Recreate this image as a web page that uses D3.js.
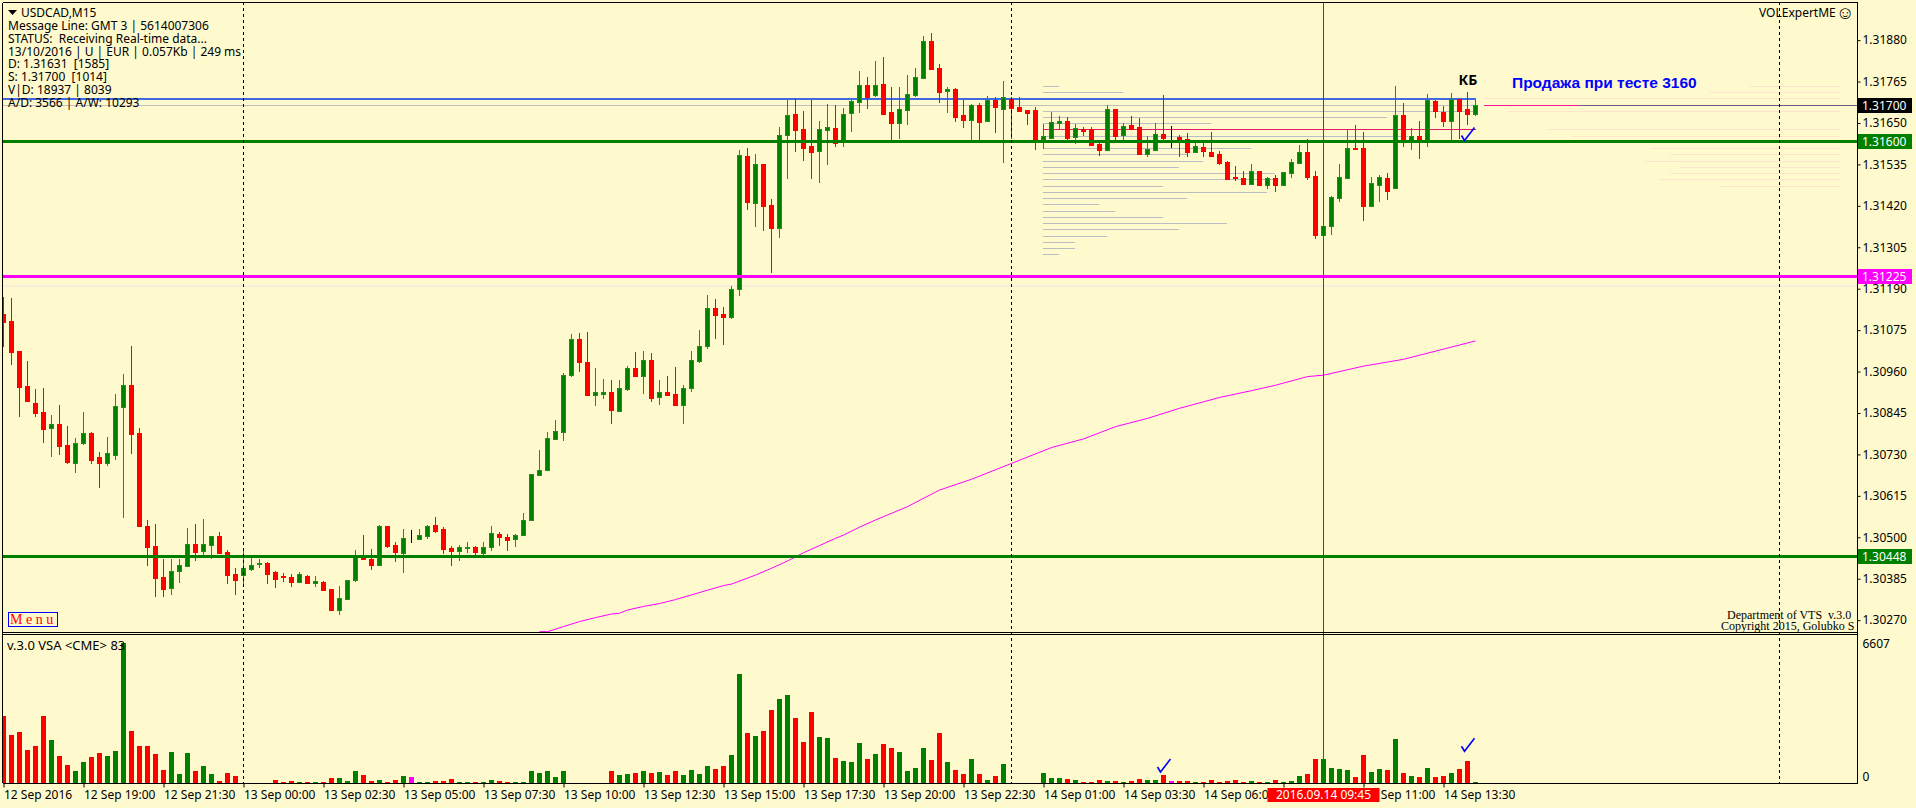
<!DOCTYPE html>
<html><head><meta charset="utf-8">
<script src="https://cdn.jsdelivr.net/npm/d3@7/dist/d3.min.js"></script>
<style>
html,body{margin:0;padding:0;background:#fffacd;overflow:hidden}
svg{display:block}
text{font-family:"Noto Sans",sans-serif;font-size:12px;fill:#000;white-space:pre}
</style></head><body><svg id="c" width="1916" height="808"></svg>
<script>
const opens=[1.31120,1.31100,1.31017,1.30920,1.30873,1.30848,1.30802,1.30814,1.30756,1.30707,
1.30760,1.30789,1.30723,1.30707,1.30729,1.30863,1.30923,1.30789,1.30531,1.30476,
1.30390,1.30360,1.30405,1.30420,1.30482,1.30463,1.30480,1.30504,1.30459,1.30398,
1.30396,1.30413,1.30426,1.30429,1.30404,1.30392,1.30390,1.30377,1.30393,1.30374,
1.30376,1.30357,1.30299,1.30330,1.30380,1.30448,1.30440,1.30424,1.30531,1.30479,
1.30457,1.30497,1.30496,1.30504,1.30534,1.30523,1.30470,1.30462,1.30471,1.30473,
1.30457,1.30473,1.30509,1.30501,1.30495,1.30506,1.30548,1.30675,1.30686,1.30774,
1.30793,1.30949,1.31050,1.30987,1.30895,1.30898,1.30903,1.30851,1.30912,1.30970,
1.30947,1.30992,1.30889,1.30903,1.30897,1.30867,1.30914,1.30989,1.31031,1.31136,
1.31119,1.31111,1.31189,1.31558,1.31428,1.31536,1.31422,1.31359,1.31617,1.31675,
1.31633,1.31586,1.31572,1.31631,1.31636,1.31600,1.31678,1.31708,1.31756,1.31728,
1.31758,1.31681,1.31650,1.31686,1.31728,1.31775,1.31878,1.31803,1.31739,1.31745,
1.31672,1.31658,1.31700,1.31656,1.31714,1.31689,1.31717,1.31695,1.31686,1.31686,
1.31606,1.31608,1.31650,1.31656,1.31612,1.31633,1.31633,1.31592,1.31575,1.31689,
1.31617,1.31645,1.31639,1.31564,1.31575,1.31620,1.31610,1.31611,1.31606,1.31570,
1.31583,1.31570,1.31564,1.31541,1.31500,1.31497,1.31481,1.31516,1.31478,1.31497,
1.31478,1.31511,1.31539,1.31569,1.31503,1.31339,1.31364,1.31441,1.31497,1.31580,
1.31580,1.31419,1.31478,1.31497,1.31469,1.31672,1.31600,1.31613,1.31600,1.31711,
1.31680,1.31655,1.31716,1.31688,1.31675];
const highs=[1.31168,1.31163,1.31017,1.30989,1.30912,1.30914,1.30839,1.30867,1.30809,1.30776,
1.30848,1.30792,1.30737,1.30778,1.30898,1.30953,1.31031,1.30803,1.30548,1.30537,
1.30440,1.30440,1.30440,1.30526,1.30537,1.30551,1.30504,1.30515,1.30465,1.30415,
1.30470,1.30446,1.30441,1.30432,1.30407,1.30401,1.30398,1.30404,1.30395,1.30392,
1.30379,1.30357,1.30365,1.30382,1.30465,1.30506,1.30468,1.30534,1.30531,1.30487,
1.30523,1.30520,1.30523,1.30534,1.30556,1.30529,1.30476,1.30479,1.30487,1.30476,
1.30487,1.30531,1.30515,1.30509,1.30509,1.30566,1.30677,1.30742,1.30792,1.30826,
1.30956,1.31064,1.31067,1.31070,1.30970,1.30939,1.30937,1.30937,1.30975,1.31014,
1.31017,1.31011,1.30936,1.30947,1.30972,1.30922,1.31017,1.31075,1.31172,1.31161,
1.31139,1.31197,1.31575,1.31581,1.31564,1.31536,1.31439,1.31639,1.31714,1.31719,
1.31683,1.31714,1.31656,1.31703,1.31700,1.31692,1.31714,1.31794,1.31778,1.31822,
1.31833,1.31750,1.31750,1.31783,1.31803,1.31891,1.31900,1.31814,1.31750,1.31747,
1.31714,1.31703,1.31706,1.31725,1.31722,1.31767,1.31722,1.31722,1.31686,1.31695,
1.31647,1.31681,1.31670,1.31667,1.31647,1.31639,1.31639,1.31597,1.31700,1.31689,
1.31650,1.31670,1.31664,1.31614,1.31650,1.31728,1.31642,1.31617,1.31622,1.31600,
1.31600,1.31625,1.31572,1.31544,1.31530,1.31516,1.31536,1.31516,1.31500,1.31505,
1.31514,1.31550,1.31589,1.31605,1.31516,1.31364,1.31447,1.31536,1.31633,1.31644,
1.31625,1.31500,1.31505,1.31511,1.31752,1.31705,1.31636,1.31655,1.31730,1.31713,
1.31697,1.31733,1.31716,1.31736,1.31713];
const lows=[1.31029,1.30978,1.30835,1.30878,1.30835,1.30763,1.30724,1.30729,1.30702,1.30679,
1.30757,1.30704,1.30638,1.30699,1.30715,1.30554,1.30732,1.30530,1.30421,1.30335,
1.30335,1.30341,1.30373,1.30419,1.30435,1.30449,1.30441,1.30457,1.30371,1.30341,
1.30371,1.30405,1.30414,1.30371,1.30358,1.30377,1.30363,1.30374,1.30371,1.30363,
1.30352,1.30298,1.30285,1.30330,1.30377,1.30440,1.30409,1.30421,1.30471,1.30432,
1.30401,1.30484,1.30496,1.30495,1.30512,1.30454,1.30420,1.30434,1.30457,1.30448,
1.30451,1.30462,1.30476,1.30462,1.30473,1.30504,1.30548,1.30673,1.30685,1.30772,
1.30768,1.30946,1.30959,1.30895,1.30864,1.30884,1.30814,1.30848,1.30906,1.30948,
1.30897,1.30875,1.30867,1.30892,1.30867,1.30814,1.30903,1.30983,1.31022,1.31050,
1.31033,1.31106,1.31169,1.31409,1.31361,1.31350,1.31233,1.31331,1.31495,1.31570,
1.31545,1.31495,1.31484,1.31533,1.31583,1.31583,1.31625,1.31678,1.31689,1.31722,
1.31672,1.31602,1.31606,1.31645,1.31722,1.31772,1.31797,1.31706,1.31678,1.31653,
1.31636,1.31601,1.31601,1.31656,1.31622,1.31539,1.31606,1.31683,1.31645,1.31575,
1.31578,1.31606,1.31633,1.31603,1.31592,1.31614,1.31589,1.31559,1.31575,1.31603,
1.31603,1.31631,1.31561,1.31556,1.31572,1.31603,1.31581,1.31556,1.31556,1.31567,
1.31556,1.31559,1.31534,1.31491,1.31489,1.31478,1.31480,1.31475,1.31466,1.31458,
1.31475,1.31497,1.31539,1.31491,1.31328,1.31339,1.31339,1.31430,1.31494,1.31575,
1.31378,1.31419,1.31430,1.31436,1.31469,1.31583,1.31575,1.31550,1.31583,1.31663,
1.31638,1.31594,1.31605,1.31644,1.31669];
const closes=[1.31099,1.31015,1.30918,1.30879,1.30846,1.30802,1.30814,1.30754,1.30710,1.30762,
1.30789,1.30715,1.30707,1.30734,1.30864,1.30923,1.30788,1.30530,1.30474,1.30388,
1.30358,1.30407,1.30423,1.30482,1.30460,1.30482,1.30504,1.30457,1.30396,1.30380,
1.30415,1.30423,1.30428,1.30399,1.30385,1.30388,1.30377,1.30398,1.30374,1.30379,
1.30355,1.30298,1.30332,1.30382,1.30448,1.30441,1.30424,1.30531,1.30476,1.30460,
1.30498,1.30497,1.30506,1.30531,1.30518,1.30468,1.30462,1.30473,1.30473,1.30459,
1.30473,1.30512,1.30501,1.30493,1.30506,1.30548,1.30677,1.30688,1.30775,1.30795,
1.30951,1.31050,1.30985,1.30895,1.30903,1.30903,1.30853,1.30914,1.30970,1.30948,
1.30992,1.30886,1.30903,1.30895,1.30867,1.30914,1.30992,1.31031,1.31136,1.31117,
1.31111,1.31189,1.31561,1.31431,1.31536,1.31420,1.31358,1.31617,1.31672,1.31631,
1.31581,1.31570,1.31633,1.31639,1.31595,1.31675,1.31711,1.31756,1.31722,1.31756,
1.31675,1.31650,1.31689,1.31731,1.31778,1.31878,1.31800,1.31736,1.31745,1.31667,
1.31658,1.31700,1.31653,1.31714,1.31695,1.31722,1.31692,1.31683,1.31678,1.31601,
1.31614,1.31653,1.31656,1.31608,1.31636,1.31628,1.31589,1.31575,1.31689,1.31614,
1.31642,1.31633,1.31564,1.31578,1.31620,1.31608,1.31610,1.31603,1.31570,1.31586,
1.31572,1.31559,1.31539,1.31494,1.31497,1.31481,1.31516,1.31476,1.31497,1.31478,
1.31514,1.31541,1.31569,1.31500,1.31339,1.31364,1.31444,1.31500,1.31580,1.31577,
1.31419,1.31483,1.31500,1.31461,1.31672,1.31602,1.31613,1.31600,1.31713,1.31683,
1.31655,1.31716,1.31683,1.31675,1.31699];
const volumes=[3170,2271,2413,1561,1750,3170,2034,1277,852,568,
994,1230,1419,1277,1514,6607,2460,1750,1750,1372,
615,1467,426,1419,568,804,426,95,473,331,
0,0,0,0,142,47,95,47,32,32,
32,237,237,95,568,378,95,142,47,142,
331,284,47,32,95,95,189,47,47,32,
47,142,95,47,32,32,568,473,568,284,
568,0,0,0,0,0,568,378,426,473,
568,473,520,378,568,378,615,426,804,662,
804,1325,5157,2366,2224,2460,3454,3974,4163,3075,
1940,3359,2176,2129,1183,1041,994,1892,1135,1372,
1845,1656,1467,568,710,1656,1088,2366,994,615,
426,1135,426,142,331,899,0,0,0,0,
473,237,237,189,142,47,47,142,95,95,
47,95,189,142,142,378,95,95,95,47,
32,142,47,95,142,47,95,32,47,142,
47,95,331,426,1135,1135,710,662,615,284,
1325,520,662,615,2082,473,331,284,710,284,
331,473,662,1041,47];
const maBars=[67,68,70,72,74,76,77,78,80,82,84,86,88,90,91,94,96,98,100,102,104,105,107,109,113,117,121,126,131,135,139,143,147,150,152,156,159,163,165,170,175,184];
const maValues=[1.30238,1.30238,1.30252,1.30266,1.30277,1.30287,1.30289,1.30298,1.30308,1.30316,1.30327,1.30340,1.30353,1.30366,1.30370,1.30395,1.30414,1.30434,1.30457,1.30477,1.30497,1.30506,1.30528,1.30548,1.30585,1.30631,1.30661,1.30705,1.30749,1.30773,1.30807,1.30830,1.30858,1.30876,1.30888,1.30907,1.30922,1.30946,1.30950,1.30975,1.30994,1.31045];
const profilePrices=[1.31752,1.31735,1.31682,1.31666,1.31649,1.31613,1.31596,1.31580,1.31563,1.31544,1.31527,1.31510,1.31494,1.31474,1.31458,1.31441,1.31424,1.31405,1.31388,1.31372,1.31355,1.31335,1.31319,1.31302,1.31285];
const profileVolumes=[16,80,433,344,168,365,359,208,145,160,136,232,232,120,224,144,56,72,120,184,136,64,32,32,16];
const farProfilePrices=[1.31752,1.31735,1.31719,1.31682,1.31633,1.31613,1.31580,1.31563,1.31544,1.31527,1.31510,1.31494,1.31474];
const farProfileVolumes=[90,130,356,332,292,268,190,170,195,160,170,180,120];
const priceTicks=[1.31880,1.31765,1.31650,1.31535,1.31420,1.31305,1.31190,1.31075,1.30960,1.30845,1.30730,1.30615,1.30500,1.30385,1.30270];
const timeTickBars=[0,10,20,30,40,50,60,70,80,90,100,110,120,130,140,150,160,170,180];
const timeLabels=["12 Sep 2016","12 Sep 19:00","12 Sep 21:30","13 Sep 00:00","13 Sep 02:30","13 Sep 05:00","13 Sep 07:30","13 Sep 10:00","13 Sep 12:30","13 Sep 15:00","13 Sep 17:30","13 Sep 20:00","13 Sep 22:30","14 Sep 01:00","14 Sep 03:30","14 Sep 06:00","14 Sep 08:30","14 Sep 11:00","14 Sep 13:30"];
const dayBars=[30,126,222];
const cursorBar=165;
const infoLines=["USDCAD,M15","Message Line: GMT 3 | 5614007306","STATUS:  Receiving Real-time data...","13/10/2016 | U | EUR | 0.057Kb | 249 ms","D: 1.31631  [1585]","S: 1.31700  [1014]","V|D: 18937 | 8039","A/D: 3566 | A/W: 10293"];
const levels=[{p:1.31600,c:"#008000"},{p:1.31225,c:"#ff00ff"},{p:1.30448,c:"#008000"}];
const n=opens.length;
const BG="#fffacd",GREEN="#008000",WICKG="#228b22",RED="#ff0000",MAG="#ff00ff";
const svg=d3.select("#c");
const xR=1857,mainTop=2,mainBottom=632,volTop=635,volBottom=783;
const x=d3.scaleLinear().domain([0,100]).range([3.5,803.5]);
const y=d3.scaleLinear().domain([1.30448,1.316]).range([556,141]);
const v=d3.scaleLinear().domain([0,6607]).range([volBottom,643.3]);
const prof=d3.scaleLinear().domain([0,433]).range([1043,1476]);
const far=d3.scaleLinear().domain([0,356]).range([1840,1484]);
svg.append("rect").attr("width",1916).attr("height",808).attr("fill",BG);
const defs=svg.append("defs");
defs.append("clipPath").attr("id","m").append("rect").attr("x",3).attr("y",mainTop).attr("width",xR-3).attr("height",mainBottom-mainTop);
defs.append("clipPath").attr("id","vp").append("rect").attr("x",3).attr("y",volTop).attr("width",xR-3).attr("height",volBottom-volTop);
const main=svg.append("g").attr("clip-path","url(#m)");
const hline=(g,a,b,py,c,w)=>g.append("line").attr("x1",a).attr("x2",b).attr("y1",Math.round(y(py))+.5).attr("y2",Math.round(y(py))+.5).attr("stroke",c).attr("stroke-width",w).attr("shape-rendering","crispEdges");
// vertical day separators
svg.append("g").selectAll("line").data(dayBars).join("line").attr("x1",d=>x(d)).attr("x2",d=>x(d)).attr("y1",mainTop).attr("y2",volBottom).attr("stroke","#000").attr("stroke-dasharray","3,3").attr("shape-rendering","crispEdges");
// faint zones and profiles
hline(main,3,xR,1.31200,"#f9ecd8",2);
main.append("g").selectAll("line").data(farProfilePrices).join("line").attr("x1",(d,i)=>far(farProfileVolumes[i])).attr("x2",far(0)).attr("y1",d=>Math.round(y(d))+.5).attr("y2",d=>Math.round(y(d))+.5).attr("stroke","#fde4cc").attr("stroke-width",1).attr("shape-rendering","crispEdges");
main.append("g").selectAll("line").data(profilePrices).join("line").attr("x1",prof(0)).attr("x2",(d,i)=>prof(profileVolumes[i])).attr("y1",d=>Math.round(y(d))+.5).attr("y2",d=>Math.round(y(d))+.5).attr("stroke","#bcbcc4").attr("stroke-width",1.5).attr("shape-rendering","crispEdges");
hline(main,3,1476,1.31700,"#c0c0c0",1);
hline(main,1484,1580,1.31700,"#ff1493",1);
hline(main,1580,xR,1.31700,"#6a5a86",1);
hline(main,1043,1476,1.31633,"#e0186b",1);
hline(main,3,1476,1.31719,"#4169e1",2);
// MA
main.append("path").datum(maBars).attr("fill","none").attr("stroke",MAG).attr("stroke-width",1)
 .attr("d",d3.line().x(d=>x(d)).y((d,i)=>y(maValues[i])));
// candles
const idx=d3.range(n);
const col=i=>closes[i]===opens[i]?"#000":closes[i]>opens[i]?WICKG:RED;
const bodyFill=i=>closes[i]===opens[i]?"#000":closes[i]>opens[i]?GREEN:RED;
main.append("g").selectAll("line").data(idx).join("line").attr("x1",x).attr("x2",x).attr("y1",i=>y(highs[i])).attr("y2",i=>y(lows[i])).attr("stroke",col).attr("stroke-width",1).attr("shape-rendering","crispEdges");
main.append("g").selectAll("rect").data(idx).join("rect")
 .attr("x",i=>x(i)-2).attr("width",4)
 .attr("y",i=>Math.round(y(Math.max(opens[i],closes[i])))+.5)
 .attr("height",i=>Math.max(0,Math.round(Math.abs(y(opens[i])-y(closes[i])))))
 .attr("fill",bodyFill).attr("stroke",i=>col(i)).attr("shape-rendering","crispEdges");
// levels on top
levels.forEach(l=>hline(main,3,xR,l.p,l.c,3));
// volume panel
const vol=svg.append("g").attr("clip-path","url(#vp)");
vol.append("g").selectAll("rect").data(idx.filter(i=>volumes[i]>0)).join("rect")
 .attr("x",i=>x(i)-2.5).attr("width",5).attr("y",i=>v(volumes[i])).attr("height",i=>volBottom-v(volumes[i]))
 .attr("fill",i=>closes[i]===opens[i]?MAG:closes[i]>opens[i]?GREEN:RED).attr("shape-rendering","crispEdges");
// cursor line
svg.append("line").attr("x1",x(cursorBar)).attr("x2",x(cursorBar)).attr("y1",mainTop).attr("y2",volBottom).attr("stroke",RED).attr("shape-rendering","crispEdges");
// frame
const frame=svg.append("g").attr("stroke","#000").attr("shape-rendering","crispEdges");
[[2.5,2.5,2.5,volBottom],[2.5,xR+.5,2.5,2.5],[2.5,xR+.5,mainBottom+.5,mainBottom+.5],[2.5,xR+.5,volTop-.5,volTop-.5],[2.5,xR+.5,volBottom+.5,volBottom+.5],[xR+.5,xR+.5,2.5,volBottom]].forEach(a=>frame.append("line").attr("x1",a[0]).attr("x2",a[1]).attr("y1",a[2]).attr("y2",a[3]));
// axes
const ax=svg.append("g").attr("transform",`translate(${xR+.5},0)`).call(d3.axisRight(y).tickValues(priceTicks).tickFormat(d3.format(".5f")).tickSize(3));
ax.select(".domain").remove();
ax.selectAll("text").attr("x",5).style("font-size","12px");
const ax2=svg.append("g").attr("transform",`translate(${xR+.5},0)`).call(d3.axisRight(v).tickValues([6607,0]).tickFormat(d3.format("d")).tickSize(0));
ax2.select(".domain").remove();
ax2.selectAll("text").attr("x",5).attr("dy",(d)=>d===0?"-0.25em":"0.32em").style("font-size","12px");
const ax3=svg.append("g").attr("transform",`translate(0,${volBottom+.5})`).call(d3.axisBottom(x).tickValues(timeTickBars).tickFormat((d,i)=>timeLabels[i]).tickSize(4));
ax3.select(".domain").remove();
ax3.selectAll("text").attr("text-anchor","start").attr("x",0).attr("y",7).style("font-size","12px");
// level tags
const tags=[{p:1.31700,c:"#000"}].concat(levels);
tags.forEach(l=>{const yy=Math.round(y(l.p));
 svg.append("rect").attr("x",xR+1).attr("y",yy-7).attr("width",54).attr("height",15).attr("fill",l.c);
 svg.append("text").attr("x",xR+5).attr("y",yy+4.5).style("fill","#fff").text(d3.format(".5f")(l.p));});
// time tag
const tx=x(cursorBar);
svg.append("rect").attr("x",tx-56).attr("y",788).attr("width",112).attr("height",14).attr("fill",RED);
svg.append("text").attr("x",tx).attr("y",799).attr("text-anchor","middle").style("fill","#fff").text("2016.09.14 09:45");
// info text
const infoY=[17,30,43,56,68,81,94,107];
infoLines.forEach((t,i)=>svg.append("text").attr("x",i?8:21).attr("y",infoY[i]).text(t));
svg.append("path").attr("d","M8,10h9l-4.5,5z").attr("fill","#000");
svg.append("text").attr("x",1759).attr("y",17).text("VOLExpertME");
svg.append("text").attr("x",1836).attr("y",19).style("font-size","18px").text("☺");
svg.append("text").attr("x",x(183)-9).attr("y",85).style("font-weight","700").style("font-size","14px").text("КБ");
svg.append("text").attr("x",1512).attr("y",88).style("font-family","'Liberation Sans'").style("font-weight","700").style("font-size","15.5px").style("fill","#0000ff").text("Продажа при тесте 3160");
const serif=(t,a,b,s,c)=>svg.append("text").attr("x",a).attr("y",b).style("font-family","'Liberation Serif'").style("font-size",s+"px").style("fill",c).text(t);
serif("Department of VTS  v.3.0",1727,619,12,"#000");
serif("Copyright 2015, Golubko S",1721,630,12,"#000");
svg.append("rect").attr("x",8.5).attr("y",612.5).attr("width",49).attr("height",14).attr("fill",BG).attr("stroke","#0000ff");
serif("M e n u",10,624,14,"#ff0000");
svg.append("text").attr("x",7).attr("y",650).style("font-size","13px").text("v.3.0 VSA <CME> 83");
// check marks
const tick="M-6,1L-3,6L7,-7";
svg.append("path").attr("transform",`translate(${x(183)},${y(1.31618)})`).attr("d",tick).attr("fill","none").attr("stroke","#0000ff").attr("stroke-width",1.6);
[[145,520],[183,1500]].forEach(c=>svg.append("path").attr("transform",`translate(${x(c[0])},${v(c[1])-6})`).attr("d",tick).attr("fill","none").attr("stroke","#0000ff").attr("stroke-width",1.6));
</script></body></html>
